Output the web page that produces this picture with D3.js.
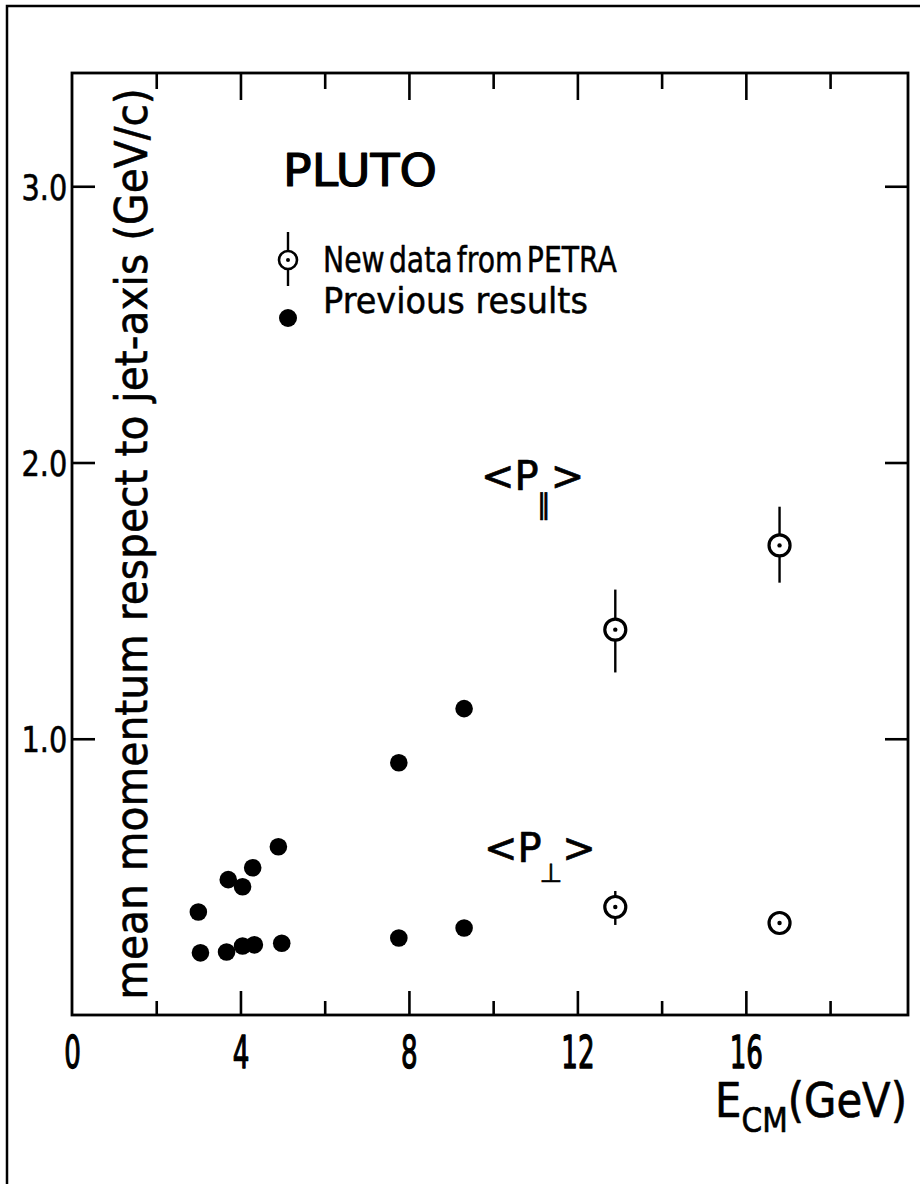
<!DOCTYPE html>
<html><head><meta charset="utf-8">
<script src="https://cdn.jsdelivr.net/npm/d3@7"></script>
<style>
body{margin:0;background:#fff}
text{font-family:"DejaVu Sans",sans-serif;fill:#000}
</style>
</head><body>
<svg id="c" width="920" height="1184"></svg>
<script>
// ---- data ----
const xTickLabels = [0, 4, 8, 12, 16];
const xMajorTicks = [4, 8, 12, 16];
const xMinorTicks = [2, 6, 10, 14, 18];
const yTickLabels = [1.0, 2.0, 3.0];

// previous results, <P_par>
const prevParE = [3.0, 3.71, 4.05, 4.29, 4.9, 7.76, 9.31];
const prevParP = [0.373, 0.49, 0.464, 0.533, 0.609, 0.913, 1.109];
// previous results, <P_perp>
const prevPerpE = [3.05, 3.67, 4.05, 4.33, 4.98, 7.76, 9.31];
const prevPerpP = [0.225, 0.228, 0.25, 0.254, 0.26, 0.279, 0.315];
// new PETRA data
const newE = [12.9, 16.8];
const newParP = [1.395, 1.70];
const newParLo = [1.24, 1.565];
const newParHi = [1.54, 1.84];
const newPerpP = [0.391, 0.333];
const newPerpLo = [0.326, 0.333];
const newPerpHi = [0.449, 0.333];

// ---- drawing ----
const svg = d3.select("#c");
const L = 72, R = 908, T = 73, B = 1015;
const X = d3.scaleLinear().domain([0, 19.85]).range([L, R]);
const Y = d3.scaleLinear().domain([0, 3.41]).range([B, T]);

function fitWidth(sel, target){
  const w = sel.node().getComputedTextLength();
  return target / w;
}
function heavy(sel, w){ return sel.attr("stroke","#000").attr("stroke-width",w).attr("stroke-linejoin","round"); }

// outer sheet border
svg.append("path").attr("d","M7,1184 L7,6 L920,6").attr("fill","none").attr("stroke","#000").attr("stroke-width",2.5);

// plot frame
svg.append("rect").attr("x",L).attr("y",T).attr("width",R-L).attr("height",B-T)
  .attr("fill","none").attr("stroke","#000").attr("stroke-width",2.8);

function tickAxis(axisFn, scale, vals, len, tx, ty){
  const g = svg.append("g").attr("transform",`translate(${tx},${ty})`)
    .call(axisFn(scale).tickValues(vals).tickSizeInner(-len).tickSizeOuter(0).tickFormat(""));
  g.select(".domain").remove();
  g.selectAll("line").attr("stroke","#000").attr("stroke-width",2.6);
  return g;
}
tickAxis(d3.axisBottom, X, xMajorTicks, 24, 0, B);
tickAxis(d3.axisBottom, X, xMinorTicks, 14, 0, B);
tickAxis(d3.axisTop, X, xMajorTicks, 27, 0, T);
tickAxis(d3.axisTop, X, xMinorTicks, 16, 0, T);
tickAxis(d3.axisLeft, Y, yTickLabels, 23, L, 0);
tickAxis(d3.axisRight, Y, yTickLabels, 23, R, 0);

// x tick labels
const gx = svg.append("g").attr("transform",`translate(0,${B})`)
  .call(d3.axisBottom(X).tickValues(xTickLabels).tickSize(0).tickFormat(d3.format("d")));
gx.select(".domain").remove();
heavy(gx.selectAll("text").attr("y",53).attr("dy",null).attr("font-size",45)
  .attr("font-family","DejaVu Sans").attr("transform","scale(0.58,1)"), 1.4);

// y tick labels
const gy = svg.append("g").attr("transform",`translate(${L},0)`)
  .call(d3.axisLeft(Y).tickValues(yTickLabels).tickSize(0).tickFormat(d3.format(".1f")));
gy.select(".domain").remove();
heavy(gy.selectAll("text").attr("x",-6).attr("dy","0.36em").attr("font-size",36)
  .attr("font-family","DejaVu Sans").attr("transform","scale(0.8,1)"), 0.6);

// y axis title
const yt = svg.append("text").attr("text-anchor","middle").attr("font-size",45)
  .text("mean momentum respect to jet-axis (GeV/c)");
const ys = fitWidth(yt, 912);
heavy(yt, 0.6).attr("transform",`translate(147,544) rotate(-90) scale(${ys},1)`);

// x axis title
const xt = svg.append("text").attr("text-anchor","end").attr("font-size",48);
xt.append("tspan").text("E");
xt.append("tspan").attr("font-size",34).attr("dy",15).text("CM");
xt.append("tspan").attr("dy",-15).text("(GeV)");
const xs = fitWidth(xt, 192);
heavy(xt, 0.7).attr("transform",`translate(907,1117) scale(${xs},1)`);

// PLUTO
const pl = svg.append("text").attr("font-size",45).text("PLUTO");
const ps = fitWidth(pl, 154);
heavy(pl, 1.2).attr("transform",`translate(283,186) scale(${ps},1)`);

// legend
const t1 = svg.append("text").attr("font-size",35).attr("word-spacing",-6).text("New data from PETRA");
heavy(t1, 0.5).attr("transform",`translate(323,272) scale(${fitWidth(t1,294)},1)`);
const t2 = svg.append("text").attr("font-size",35).text("Previous results");
heavy(t2, 0.5).attr("transform",`translate(323,313) scale(${fitWidth(t2,265)},1)`);

// legend markers
svg.append("line").attr("x1",288).attr("x2",288).attr("y1",232).attr("y2",286)
  .attr("stroke","#000").attr("stroke-width",2.4);
svg.append("circle").attr("cx",288).attr("cy",260).attr("r",9)
  .attr("fill","#fff").attr("stroke","#000").attr("stroke-width",2.6);
svg.append("circle").attr("cx",288).attr("cy",260).attr("r",2).attr("fill","#000");
svg.append("circle").attr("cx",288).attr("cy",318).attr("r",9).attr("fill","#000");

// <P_par> and <P_perp> labels (one text element each, subscript after P, lowered)
function plabel(x, base, sub, subSize, subDx, subDy, backDx){
  const t = svg.append("text").attr("font-size",40).attr("x",x).attr("y",base);
  t.append("tspan").text("<P");
  t.append("tspan").attr("font-size",subSize).attr("dx",subDx).attr("dy",subDy).text(sub);
  t.append("tspan").attr("dx",backDx).attr("dy",-subDy).text(">");
  heavy(t, 0.7);
}
plabel(481, 490, "\u2225", 28, -2, 24, 0);
plabel(484, 862, "\u22A5", 26, -2, 20, 0);

// previous results (filled dots)
const prevPar = prevParE.map((e,i)=>({e, p:prevParP[i]}));
const prevPerp = prevPerpE.map((e,i)=>({e, p:prevPerpP[i]}));
svg.append("g").selectAll("circle").data(prevPar.concat(prevPerp)).join("circle")
  .attr("cx",d=>X(d.e)).attr("cy",d=>Y(d.p)).attr("r",8.8).attr("fill","#000");

// new data (open circles with centre dot and error bars)
const newPts = newE.map((e,i)=>({e,p:newParP[i],lo:newParLo[i],hi:newParHi[i]}))
  .concat(newE.map((e,i)=>({e,p:newPerpP[i],lo:newPerpLo[i],hi:newPerpHi[i]})));
const gn = svg.append("g");
gn.selectAll("line").data(newPts).join("line")
  .attr("x1",d=>X(d.e)).attr("x2",d=>X(d.e)).attr("y1",d=>Y(d.hi)).attr("y2",d=>Y(d.lo))
  .attr("stroke","#000").attr("stroke-width",2.4);
gn.selectAll("circle.o").data(newPts).join("circle").attr("class","o")
  .attr("cx",d=>X(d.e)).attr("cy",d=>Y(d.p)).attr("r",10.5)
  .attr("fill","#fff").attr("stroke","#000").attr("stroke-width",3.2);
gn.selectAll("circle.c").data(newPts).join("circle").attr("class","c")
  .attr("cx",d=>X(d.e)).attr("cy",d=>Y(d.p)).attr("r",2.2).attr("fill","#000");
</script>
</body></html>
